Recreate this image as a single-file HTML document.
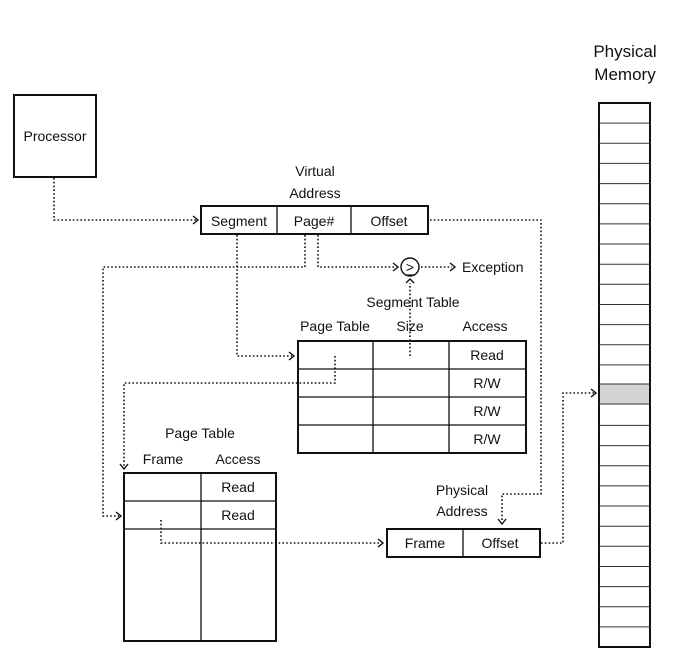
<!DOCTYPE html>
<html><head><style>
html,body{margin:0;padding:0;background:#fff;}
svg{display:block;}
text{font-family:"Liberation Sans Narrow","Liberation Sans",sans-serif;font-size:14px;fill:#111;}
.b{fill:none;stroke:#111;stroke-width:2;}
.t{fill:none;stroke:#111;stroke-width:1.3;}
.d{fill:none;stroke:#111;stroke-width:1.6;stroke-dasharray:1.6 2.2;}
.a{fill:none;stroke:#111;stroke-width:1.4;}
</style></head><body>
<svg width="691" height="657" viewBox="0 0 691 657" xmlns="http://www.w3.org/2000/svg">
<rect x="14" y="95" width="82" height="82" class="b"/>
<text x="55" y="141" text-anchor="middle">Processor</text>

<text x="315" y="176" text-anchor="middle">Virtual</text>
<text x="315" y="198" text-anchor="middle">Address</text>
<rect x="201" y="206" width="227" height="28" class="b"/>
<line x1="277" y1="206" x2="277" y2="234" class="t"/>
<line x1="351" y1="206" x2="351" y2="234" class="t"/>
<text x="239" y="226" text-anchor="middle">Segment</text>
<text x="314" y="226" text-anchor="middle">Page#</text>
<text x="389" y="226" text-anchor="middle">Offset</text>

<circle cx="410" cy="267" r="9" class="a"/>
<text x="410" y="272" text-anchor="middle" font-size="15">&gt;</text>
<line x1="405" y1="275" x2="415" y2="275" stroke="#111" stroke-width="1.2"/>
<text x="462" y="272">Exception</text>

<text x="413" y="307" text-anchor="middle">Segment Table</text>
<text x="335" y="331" text-anchor="middle">Page Table</text>
<text x="410" y="331" text-anchor="middle">Size</text>
<text x="485" y="331" text-anchor="middle">Access</text>
<rect x="298" y="341" width="228" height="112" class="b"/>
<line x1="373" y1="341" x2="373" y2="453" class="t"/>
<line x1="449" y1="341" x2="449" y2="453" class="t"/>
<line x1="298" y1="369" x2="526" y2="369" class="t"/>
<line x1="298" y1="397" x2="526" y2="397" class="t"/>
<line x1="298" y1="425" x2="526" y2="425" class="t"/>
<text x="487" y="360" text-anchor="middle">Read</text>
<text x="487" y="388" text-anchor="middle">R/W</text>
<text x="487" y="416" text-anchor="middle">R/W</text>
<text x="487" y="444" text-anchor="middle">R/W</text>

<text x="200" y="438" text-anchor="middle">Page Table</text>
<text x="163" y="464" text-anchor="middle">Frame</text>
<text x="238" y="464" text-anchor="middle">Access</text>
<rect x="124" y="473" width="152" height="168" class="b"/>
<line x1="201" y1="473" x2="201" y2="641" class="t"/>
<line x1="124" y1="501" x2="276" y2="501" class="t"/>
<line x1="124" y1="529" x2="276" y2="529" class="t"/>
<text x="238" y="492" text-anchor="middle">Read</text>
<text x="238" y="520" text-anchor="middle">Read</text>

<text x="462" y="495" text-anchor="middle">Physical</text>
<text x="462" y="516" text-anchor="middle">Address</text>
<rect x="387" y="529" width="153" height="28" class="b"/>
<line x1="463" y1="529" x2="463" y2="557" class="t"/>
<text x="425" y="548" text-anchor="middle">Frame</text>
<text x="500" y="548" text-anchor="middle">Offset</text>

<text x="625" y="57" text-anchor="middle" style="font-family:'Liberation Sans',sans-serif;font-size:17px">Physical</text>
<text x="625" y="80" text-anchor="middle" style="font-family:'Liberation Sans',sans-serif;font-size:17px">Memory</text>
<rect x="599" y="384" width="51" height="20" fill="#d4d4d4"/>
<rect x="599" y="103" width="51" height="544" class="b"/>
<g stroke="#333" stroke-width="1">
<line x1="599" y1="123.1" x2="650" y2="123.1"/><line x1="599" y1="143.3" x2="650" y2="143.3"/><line x1="599" y1="163.4" x2="650" y2="163.4"/><line x1="599" y1="183.6" x2="650" y2="183.6"/><line x1="599" y1="203.7" x2="650" y2="203.7"/><line x1="599" y1="223.9" x2="650" y2="223.9"/><line x1="599" y1="244" x2="650" y2="244"/><line x1="599" y1="264.2" x2="650" y2="264.2"/><line x1="599" y1="284.3" x2="650" y2="284.3"/><line x1="599" y1="304.5" x2="650" y2="304.5"/><line x1="599" y1="324.6" x2="650" y2="324.6"/><line x1="599" y1="344.8" x2="650" y2="344.8"/><line x1="599" y1="364.9" x2="650" y2="364.9"/><line x1="599" y1="384" x2="650" y2="384"/><line x1="599" y1="404" x2="650" y2="404"/><line x1="599" y1="425.4" x2="650" y2="425.4"/><line x1="599" y1="445.6" x2="650" y2="445.6"/><line x1="599" y1="465.7" x2="650" y2="465.7"/><line x1="599" y1="485.9" x2="650" y2="485.9"/><line x1="599" y1="506" x2="650" y2="506"/><line x1="599" y1="526.2" x2="650" y2="526.2"/><line x1="599" y1="546.3" x2="650" y2="546.3"/><line x1="599" y1="566.5" x2="650" y2="566.5"/><line x1="599" y1="586.6" x2="650" y2="586.6"/><line x1="599" y1="606.8" x2="650" y2="606.8"/><line x1="599" y1="626.9" x2="650" y2="626.9"/>
</g>

<polyline points="54,178 54,220 196,220" class="d"/>
<polyline points="193,216 198,220 193,224" class="a"/>

<polyline points="430,220 541,220 541,494 502,494 502,522" class="d"/>
<polyline points="498,519 502,524 506,519" class="a"/>

<polyline points="541,543 563,543 563,393 594,393" class="d"/>
<polyline points="591,389 596,393 591,397" class="a"/>

<polyline points="237,235 237,356 292,356" class="d"/>
<polyline points="289,352 294,356 289,360" class="a"/>

<polyline points="305,235 305,267 103,267 103,516 119,516" class="d"/>
<polyline points="116,512 121,516 116,520" class="a"/>

<polyline points="318,235 318,267 396,267" class="d"/>
<polyline points="393,263 398,267 393,271" class="a"/>

<polyline points="421,267 452,267" class="d"/>
<polyline points="450,263 455,267 450,271" class="a"/>

<polyline points="410,356 410,283" class="d"/>
<polyline points="406,283 410,279 414,283" class="a"/>

<polyline points="335,356 335,383 124,383 124,466" class="d"/>
<polyline points="120,464 124,469 128,464" class="a"/>

<polyline points="161,520 161,543 380,543" class="d"/>
<polyline points="378,539 383,543 378,547" class="a"/>
</svg>
</body></html>
